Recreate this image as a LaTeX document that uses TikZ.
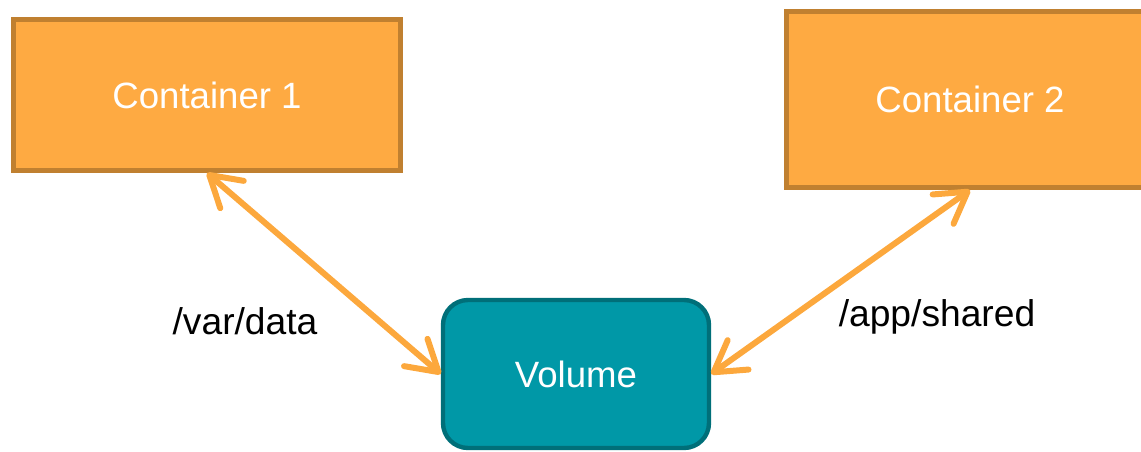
\documentclass[tikz,border=0pt]{standalone}
\usepackage{fontspec}
\setmainfont{Liberation Sans}
\usetikzlibrary{arrows.meta}

\definecolor{boxfill}{HTML}{FEAA42}
\definecolor{boxline}{HTML}{C08030}
\definecolor{volfill}{HTML}{0098A7}
\definecolor{volline}{HTML}{006F79}
\definecolor{linkcol}{HTML}{FCA83D}

\begin{document}
\begin{tikzpicture}[x=0.5pt,y=-0.5pt,
  container/.style={draw=boxline, fill=boxfill, line width=2.5pt, text=white, font=\fontsize{18.3}{21}\selectfont},
  volume/.style={draw=volline, fill=volfill, line width=2.2pt, rounded corners=12.5pt, text=white,
    minimum width=133pt, minimum height=74pt, font=\fontsize{18.3}{21}\selectfont},
  link/.style={draw=linkcol, line width=3pt, line cap=round, {Straight Barb[length=15pt,width=18pt,round]}-{Straight Barb[length=15pt,width=18pt,round]}},
  mount/.style={font=\fontsize{18.6}{21}\selectfont}]
\useasboundingbox (0,0) rectangle (1141,451);

\node[container, minimum width=193.5pt, minimum height=75.5pt] (c1) at (207,95) {Container 1};
\node[container, minimum width=183.5pt, minimum height=88pt] (c2) at (970,99.5) {Container 2};
\node[volume] (vol) at (576,374) {Volume};

\path[link] (c1.south) -- (vol.west);
\path[link] (c2.south) -- (vol.east);

\node[mount] (m1) at (245,321) {/var/data};
\node[mount] (m2) at (937,317) {/app/shared};
\end{tikzpicture}
\end{document}
